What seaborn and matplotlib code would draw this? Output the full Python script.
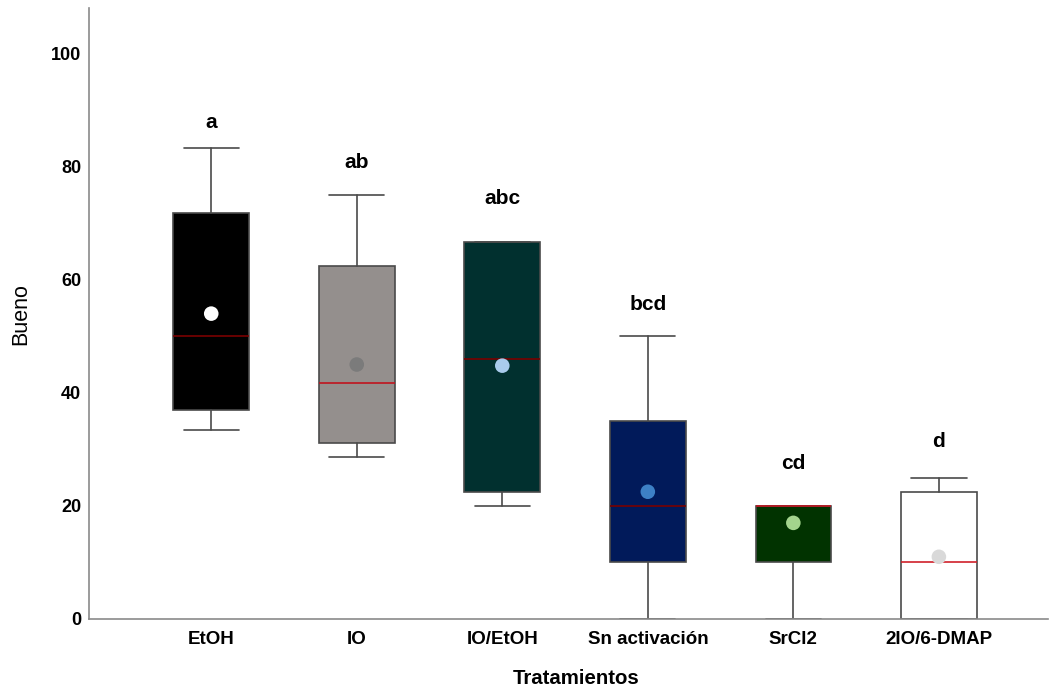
import matplotlib
matplotlib.use("Agg")
import matplotlib.pyplot as plt
import seaborn as sns
import pandas as pd

sns.set_style("white")
plt.rcParams["font.family"] = ["Liberation Sans", "DejaVu Sans"]
plt.rcParams["text.color"] = "black"
plt.rcParams["axes.labelcolor"] = "black"
plt.rcParams["xtick.color"] = "black"
plt.rcParams["ytick.color"] = "black"

# Treatments and their box summaries (Bueno, %)
tratamientos = ["EtOH", "IO", "IO/EtOH", "Sn activación", "SrCl2", "2IO/6-DMAP"]
whisker_low = [33.5, 28.7, 20.0, 0.0, 0.0, 0.0]
q1 = [36.9, 31.2, 22.5, 10.0, 10.0, 0.0]
mediana = [50.0, 41.7, 46.0, 20.0, 20.0, 10.0]
q3 = [71.8, 62.5, 66.7, 35.0, 20.0, 22.5]
whisker_high = [83.3, 75.0, 66.7, 50.0, 20.0, 25.0]
media = [54.0, 45.0, 44.8, 22.5, 17.0, 11.0]
letras = ["a", "ab", "abc", "bcd", "cd", "d"]
letra_y = [87.8, 80.8, 74.4, 55.7, 27.5, 31.4]

box_colors = ["#000000", "#948f8d", "#01302f", "#011a5a", "#013300", "#ffffff"]
mean_colors = ["#ffffff", "#7b7b7b", "#a9cbec", "#3d80c5", "#a3d48d", "#d9d9d9"]
median_colors = ["#7a0000", "#c0141e", "#7a0000", "#7a0000", "#c0141e", "#d0202a"]

fig = plt.figure(figsize=(10.57, 6.88), dpi=100)
ax = fig.add_axes([0.0842, 0.1003, 0.9073, 0.8877])

stats = []
for i, name in enumerate(tratamientos):
    stats.append(dict(label=name, whislo=whisker_low[i], q1=q1[i], med=mediana[i],
                      q3=q3[i], whishi=whisker_high[i], fliers=[]))

edge = "#4a4a4a"
bp = ax.bxp(stats, positions=range(len(stats)), widths=0.52, patch_artist=True,
            showfliers=False,
            boxprops=dict(edgecolor=edge, linewidth=1.2),
            whiskerprops=dict(color=edge, linewidth=1.2),
            capprops=dict(color=edge, linewidth=1.2),
            medianprops=dict(linewidth=1.2))
for cap in bp["caps"]:
    x0, x1 = cap.get_xdata()
    c = (x0 + x1) / 2
    cap.set_xdata([c - 0.19, c + 0.19])
for patch, col in zip(bp["boxes"], box_colors):
    patch.set_facecolor(col)
for med, col in zip(bp["medians"], median_colors):
    med.set_color(col)

means = pd.DataFrame({"Tratamientos": tratamientos, "Bueno": media})
sns.scatterplot(data=means, x="Tratamientos", y="Bueno", hue="Tratamientos",
                palette=dict(zip(tratamientos, mean_colors)), s=110,
                edgecolor="none", legend=False, ax=ax, zorder=5)

for i, (t, y) in enumerate(zip(letras, letra_y)):
    ax.text(i, y, t, ha="center", va="center", fontsize=15, fontweight="bold")

ax.set_xlim(-0.84, 5.75)
ax.set_ylim(0, 108)
ax.set_yticks([0, 20, 40, 60, 80, 100])
ax.set_xticks(range(len(tratamientos)))
ax.set_xticklabels(tratamientos)
ax.tick_params(axis="x", length=0, labelsize=13.5, pad=8.5)
ax.tick_params(axis="y", length=0, labelsize=13, pad=5.5)
for lab in ax.get_xticklabels() + ax.get_yticklabels():
    lab.set_fontweight("bold")
ax.set_xlabel("Tratamientos", fontsize=14.7, fontweight="bold", va="center")
ax.xaxis.set_label_coords(0.508, -0.0975)
ax.set_ylabel("Bueno", fontsize=15.5, va="center")
ax.yaxis.set_label_coords(-0.0709, 0.5)

sns.despine(ax=ax)
for s in ["left", "bottom"]:
    ax.spines[s].set_color("#8a8a8a")
    ax.spines[s].set_linewidth(1.2)

fig.savefig("out.png", dpi=100)
